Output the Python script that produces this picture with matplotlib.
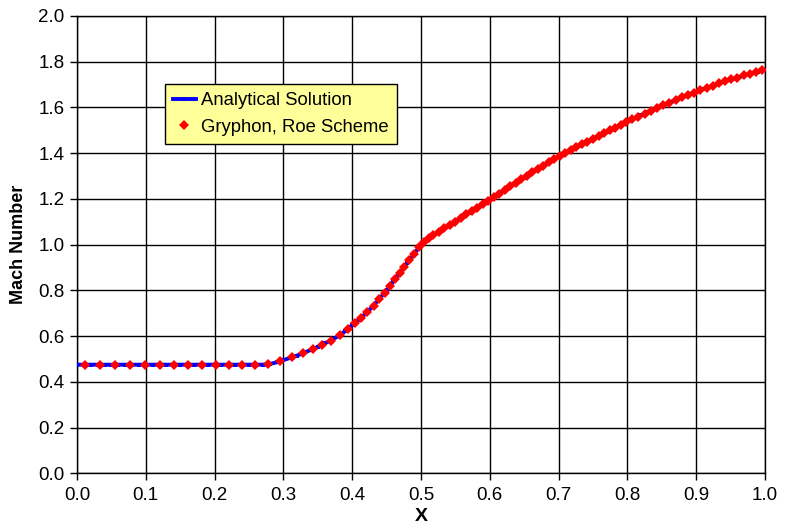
import matplotlib
matplotlib.use("Agg")
import matplotlib.pyplot as plt

# Analytical solution (x, Mach)
x_analytical = [0.00, 0.01, 0.02, 0.03, 0.04, 0.05, 0.06, 0.07, 0.08, 0.09,
                0.10, 0.11, 0.12, 0.13, 0.14, 0.15, 0.16, 0.17, 0.18, 0.19,
                0.20, 0.21, 0.22, 0.23, 0.24, 0.25, 0.26, 0.27, 0.28, 0.29,
                0.30, 0.31, 0.32, 0.33, 0.34, 0.35, 0.36, 0.37, 0.38, 0.39,
                0.40, 0.41, 0.42, 0.43, 0.44, 0.45, 0.46, 0.47, 0.48, 0.49,
                0.50, 0.51, 0.52, 0.53, 0.54, 0.55, 0.56, 0.57, 0.58, 0.59,
                0.60, 0.61, 0.62, 0.63, 0.64, 0.65, 0.66, 0.67, 0.68, 0.69,
                0.70, 0.71, 0.72, 0.73, 0.74, 0.75, 0.76, 0.77, 0.78, 0.79,
                0.80, 0.81, 0.82, 0.83, 0.84, 0.85, 0.86, 0.87, 0.88, 0.89,
                0.90, 0.91, 0.92, 0.93, 0.94, 0.95, 0.96, 0.97, 0.98, 0.99, 1.00]
mach_analytical = [0.475, 0.475, 0.475, 0.475, 0.475, 0.475, 0.475, 0.475, 0.475, 0.475,
                   0.475, 0.475, 0.475, 0.475, 0.475, 0.475, 0.475, 0.475, 0.475, 0.475,
                   0.475, 0.475, 0.475, 0.475, 0.475, 0.475, 0.475, 0.475, 0.478, 0.485,
                   0.495, 0.505, 0.515, 0.527, 0.540, 0.553, 0.568, 0.583, 0.600, 0.622,
                   0.648, 0.672, 0.700, 0.730, 0.765, 0.800, 0.840, 0.880, 0.920, 0.960,
                   1.000, 1.025, 1.045, 1.063, 1.082, 1.100, 1.120, 1.140, 1.158, 1.177,
                   1.195, 1.215, 1.235, 1.255, 1.274, 1.293, 1.312, 1.330, 1.349, 1.367,
                   1.385, 1.401, 1.417, 1.433, 1.448, 1.463, 1.479, 1.494, 1.509, 1.524,
                   1.538, 1.552, 1.566, 1.580, 1.594, 1.607, 1.620, 1.633, 1.645, 1.657,
                   1.669, 1.680, 1.691, 1.702, 1.712, 1.722, 1.731, 1.740, 1.749, 1.757, 1.765]

# Gryphon, Roe scheme (cell centres, x, Mach)
x_gryphon = [0.011, 0.033, 0.055, 0.077, 0.099, 0.121, 0.141, 0.161, 0.182, 0.202,
             0.221, 0.240, 0.259, 0.277, 0.295, 0.312, 0.328, 0.343, 0.356, 0.369,
             0.382, 0.394, 0.404, 0.413, 0.422, 0.431, 0.439, 0.447, 0.455, 0.462,
             0.469, 0.476, 0.483, 0.490, 0.497, 0.504, 0.511, 0.518, 0.526, 0.534,
             0.542, 0.550, 0.558, 0.566, 0.574, 0.582, 0.590, 0.598, 0.606, 0.614,
             0.622, 0.630, 0.638, 0.646, 0.654, 0.662, 0.670, 0.678, 0.686, 0.694,
             0.702, 0.710, 0.718, 0.726, 0.734, 0.742, 0.750, 0.758, 0.766, 0.774,
             0.782, 0.790, 0.798, 0.807, 0.816, 0.825, 0.834, 0.843, 0.852, 0.861,
             0.870, 0.879, 0.888, 0.897, 0.906, 0.915, 0.924, 0.933, 0.942, 0.951,
             0.960, 0.969, 0.978, 0.987, 0.996]
mach_gryphon = [0.475, 0.475, 0.475, 0.475, 0.475, 0.475, 0.475, 0.475, 0.475, 0.475,
                0.475, 0.475, 0.475, 0.477, 0.490, 0.507, 0.525, 0.544, 0.562, 0.580,
                0.605, 0.632, 0.658, 0.680, 0.706, 0.733, 0.761, 0.790, 0.820, 0.848,
                0.876, 0.904, 0.932, 0.960, 0.988, 1.010, 1.028, 1.042, 1.056, 1.071,
                1.086, 1.100, 1.116, 1.132, 1.148, 1.162, 1.177, 1.191, 1.207, 1.223,
                1.239, 1.255, 1.270, 1.285, 1.301, 1.316, 1.330, 1.345, 1.360, 1.374,
                1.388, 1.401, 1.414, 1.427, 1.439, 1.451, 1.463, 1.476, 1.488, 1.500,
                1.512, 1.524, 1.535, 1.548, 1.560, 1.573, 1.585, 1.598, 1.610, 1.621,
                1.633, 1.644, 1.655, 1.665, 1.676, 1.686, 1.696, 1.705, 1.714, 1.723,
                1.731, 1.740, 1.748, 1.756, 1.763]

x_ticks = [0.0, 0.1, 0.2, 0.3, 0.4, 0.5, 0.6, 0.7, 0.8, 0.9, 1.0]
y_ticks = [0.0, 0.2, 0.4, 0.6, 0.8, 1.0, 1.2, 1.4, 1.6, 1.8, 2.0]

plt.rcParams['font.family'] = ['Liberation Sans', 'DejaVu Sans']

fig = plt.figure(figsize=(7.85, 5.29), dpi=100)
ax = fig.add_axes([77 / 785, 1 - 473.3 / 529, 688 / 785, 457.3 / 529])

ax.plot(x_analytical, mach_analytical, color='#0000FF', linewidth=2.8,
        marker='s', markersize=3.0, markeredgewidth=0,
        label='Analytical Solution', zorder=3)
ax.plot(x_gryphon, mach_gryphon, linestyle='none', color='#FF0000',
        marker='D', markersize=5.0, markeredgewidth=0,
        label='Gryphon, Roe Scheme', zorder=4)

ax.set_xlim(0, 1)
ax.set_ylim(0, 2)
ax.set_xticks(x_ticks)
ax.set_yticks(y_ticks)
ax.set_xticklabels([f'{v:.1f}' for v in x_ticks])
ax.set_yticklabels([f'{v:.1f}' for v in y_ticks])
ax.tick_params(axis='both', direction='out', length=5, width=1, color='black',
               labelsize=13.5)
ax.tick_params(axis='x', pad=5)
ax.tick_params(axis='y', pad=4)
ax.grid(True, color='black', linewidth=1)
ax.set_axisbelow(True)
for s in ax.spines.values():
    s.set_color('black')
    s.set_linewidth(1)

ax.set_xlabel('X', fontsize=14, fontweight='bold', labelpad=3)
ax.set_ylabel('Mach Number', fontsize=13, fontweight='bold', labelpad=8)

leg = ax.legend(loc='upper left', bbox_to_anchor=(0.128, 0.851),
                fontsize=13.3, frameon=True, fancybox=False,
                handlelength=1.2, handletextpad=0.3, borderpad=0.45,
                labelspacing=0.5, borderaxespad=0)
leg.get_frame().set_facecolor('#FFFF99')
leg.get_frame().set_edgecolor('black')
leg.get_frame().set_linewidth(1)
leg.get_frame().set_alpha(1)

fig.savefig('out.png', dpi=100)
